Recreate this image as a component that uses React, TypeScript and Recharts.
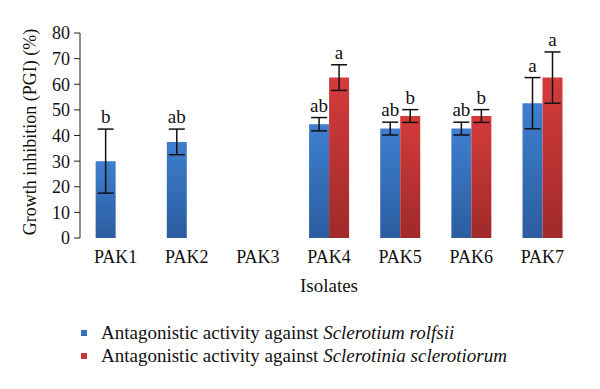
import React from 'react';
import { BarChart, Bar, XAxis, YAxis, ErrorBar, LabelList, Legend, Label } from 'recharts';

const categories = ['PAK1', 'PAK2', 'PAK3', 'PAK4', 'PAK5', 'PAK6', 'PAK7'];
const rolfsiiValues = [30, 37.5, 0, 44.4, 42.7, 42.7, 52.6];
const rolfsiiErrors = [12.5, 5, null, 2.6, 2.5, 2.5, 10];
const rolfsiiLetters = ['b', 'ab', '', 'ab', 'ab', 'ab', 'a'];
const sclerotiorumValues = [0, 0, 0, 62.6, 47.6, 47.6, 62.6];
const sclerotiorumErrors = [null, null, null, 5, 2.5, 2.5, 10];
const sclerotiorumLetters = ['', '', '', 'a', 'b', 'b', 'a'];
const yTicks = [0, 10, 20, 30, 40, 50, 60, 70, 80];
const boundaryTicks = [0, 1, 2, 3, 4, 5, 6, 7];

const data = categories.map((c, i) => ({
  name: c,
  idx: i + 0.5,
  rolfsii: rolfsiiValues[i],
  rolfsiiErr: rolfsiiErrors[i],
  rolfsiiLetter: rolfsiiLetters[i],
  scl: sclerotiorumValues[i],
  sclErr: sclerotiorumErrors[i],
  sclLetter: sclerotiorumLetters[i],
}));

const FONT = '"Liberation Serif", "DejaVu Serif", serif';

const LetterLabel = (props: any) => {
  const { x, y, width, height, value } = props;
  if (!value) return null;
  const [letter, errS, valS] = String(value).split('|');
  if (!letter) return null;
  const v = Number(valS);
  const e = Number(errS) || 0;
  const pxPerUnit = v ? Math.abs(height) / v : 0;
  const top = y - e * pxPerUnit;
  return (
    <text x={x + width / 2} y={top - 6} textAnchor="middle" fontFamily={FONT} fontSize={19} fill="#111">
      {letter}
    </text>
  );
};

const LegendContent = () => (
  <div style={{ fontFamily: FONT, fontSize: 19, color: '#111', lineHeight: '23px' }}>
    <div style={{ display: 'flex', alignItems: 'center', whiteSpace: 'nowrap' }}>
      <span style={{ display: 'inline-block', width: 6, height: 6, background: '#3470bd', marginRight: 14 }} />
      <span>Antagonistic activity against <i>Sclerotium rolfsii</i></span>
    </div>
    <div style={{ display: 'flex', alignItems: 'center', whiteSpace: 'nowrap' }}>
      <span style={{ display: 'inline-block', width: 6, height: 6, background: '#c83434', marginRight: 14 }} />
      <span>Antagonistic activity against <i>Sclerotinia sclerotiorum</i></span>
    </div>
  </div>
);

export default function App() {
  return (
    <div style={{ position: 'absolute', left: 0, top: 0, background: '#fff' }}>
      <BarChart
        width={600}
        height={389}
        data={data}
        margin={{ top: 33, right: 22, left: 0, bottom: 91 }}
        barCategoryGap="22%"
        barGap={0}
      >
        <defs>
          <linearGradient id="gBlue" x1="0" y1="0" x2="0" y2="1">
            <stop offset="0%" stopColor="#3e7fcf" />
            <stop offset="100%" stopColor="#2b5d9f" />
          </linearGradient>
          <linearGradient id="gRed" x1="0" y1="0" x2="0" y2="1">
            <stop offset="0%" stopColor="#d43b3b" />
            <stop offset="100%" stopColor="#a02a2a" />
          </linearGradient>
        </defs>
        <XAxis
          xAxisId="b"
          type="number"
          dataKey="idx"
          domain={[0, 7]}
          ticks={boundaryTicks}
          interval={0}
          tickFormatter={() => ''}
          height={0}
          stroke="#222"
          tickSize={5}
          allowDataOverflow
        />
        <XAxis
          xAxisId="c"
          dataKey="name"
          axisLine={false}
          tickLine={false}
          height={60}
          interval={0}
          tick={{ fontFamily: FONT, fontSize: 18, fill: '#111' }}
          tickMargin={6}
        >
          <Label value="Isolates" position="insideBottom" offset={6} style={{ fontFamily: FONT, fontSize: 19, fill: '#111' }} />
        </XAxis>
        <YAxis
          width={80}
          domain={[0, 80]}
          ticks={yTicks}
          interval={0}
          stroke="#222"
          tickSize={6}
          tickMargin={4}
          tick={{ fontFamily: FONT, fontSize: 18, fill: '#111' }}
        >
          <Label
            content={() => (
              <text
                x={30}
                y={132}
                transform="rotate(-90 30 132)"
                textAnchor="middle"
                dominantBaseline="central"
                fontFamily={FONT}
                fontSize={18}
                fill="#111"
              >
                Growth inhibition (PGI) (%)
              </text>
            )}
          />
        </YAxis>
        <Legend
          layout="vertical"
          align="center"
          verticalAlign="middle"
          content={<LegendContent />}
          wrapperStyle={{ top: 321, left: 81, width: 'auto' }}
        />
        <Bar xAxisId="c" dataKey="rolfsii" fill="url(#gBlue)" isAnimationActive={false}>
          <ErrorBar dataKey="rolfsiiErr" width={8} stroke="#111" strokeWidth={1.5} />
          <LabelList
            dataKey={(d: any) => `${d.rolfsiiLetter}|${d.rolfsiiErr ?? 0}|${d.rolfsii}`}
            content={LetterLabel}
          />
        </Bar>
        <Bar xAxisId="c" dataKey="scl" fill="url(#gRed)" isAnimationActive={false}>
          <ErrorBar dataKey="sclErr" width={8} stroke="#111" strokeWidth={1.5} />
          <LabelList
            dataKey={(d: any) => `${d.sclLetter}|${d.sclErr ?? 0}|${d.scl}`}
            content={LetterLabel}
          />
        </Bar>
      </BarChart>
    </div>
  );
}
